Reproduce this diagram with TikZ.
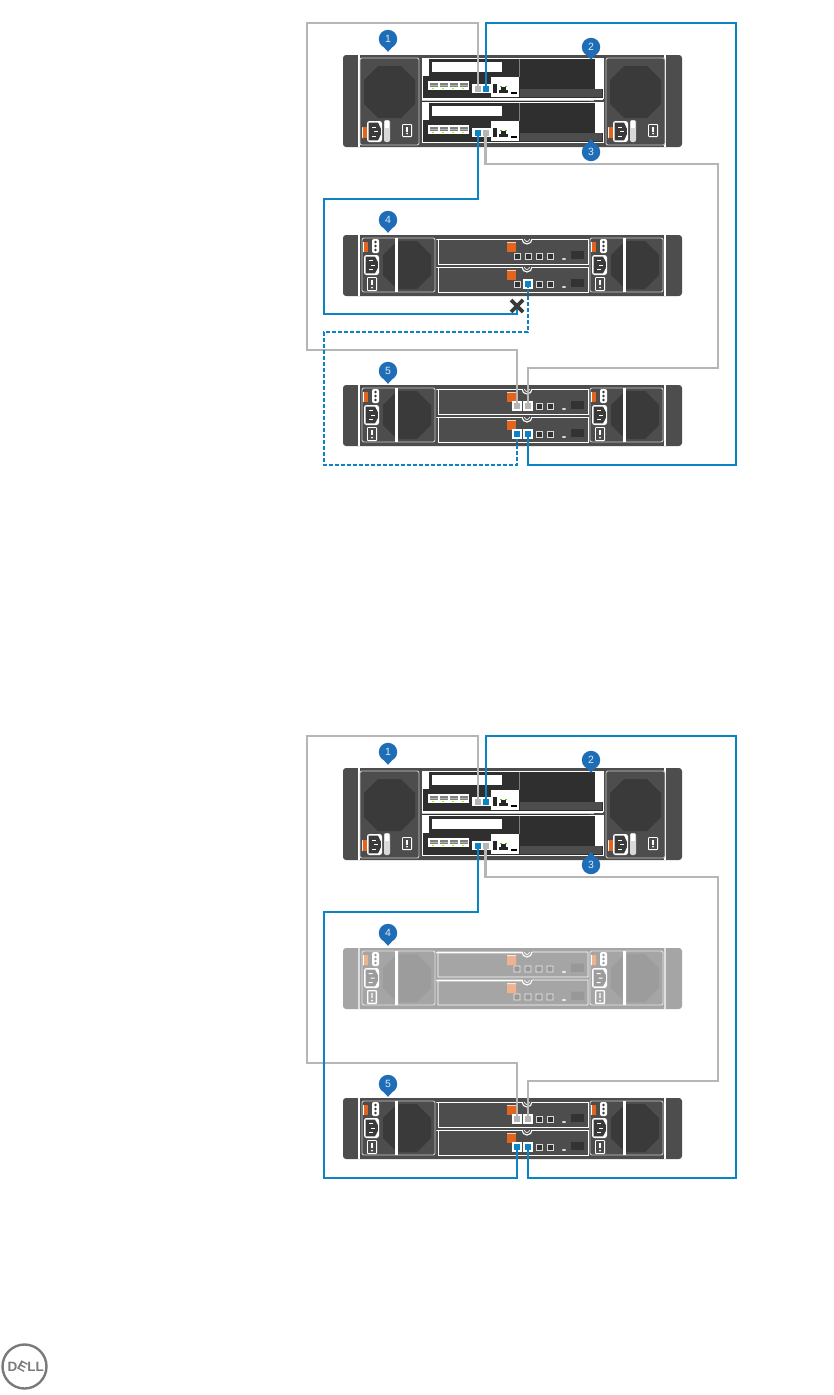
\documentclass[tikz,border=0pt]{standalone}
\usepackage{fontspec}
\usepackage{graphicx}
\setmainfont{Liberation Sans}
\definecolor{body}{HTML}{4D4D4D}
\definecolor{inner}{HTML}{2F2F2F}
\definecolor{octa}{HTML}{3A3A3A}
\definecolor{cblue}{HTML}{0A84C4}
\definecolor{cgray}{HTML}{B6B6B6}
\definecolor{mblue}{HTML}{1F6DB7}
\definecolor{orng}{HTML}{E2651E}
\definecolor{logo}{HTML}{7A7A7A}
\tikzset{
  graycable/.style={draw=cgray,line width=2.7pt},
  bluecable/.style={draw=cblue,line width=2.5pt},
  bluedash/.style={draw=cblue,line width=2.5pt,dash pattern=on 4pt off 2pt},
  wl/.style={draw=white,line width=.9pt},
  softl/.style={draw=white!78!black,line width=.9pt},
  marknum/.style={text=white!85!cblue,font=\fontsize{10.5}{12}\selectfont,inner sep=0pt},
}
\newcommand\octagon[5]{\fill[octa] (#1+#5,#2) -- (#3-#5,#2) -- (#3,#2+#5) -- (#3,#4-#5) -- (#3-#5,#4) -- (#1+#5,#4) -- (#1,#4-#5) -- (#1,#2+#5) -- cycle;}
\newcommand\bodyshell[2]{%
  \fill[body,rounded corners=3pt] (343,#1) rectangle (682,#2);
  \draw[white,line width=1.2pt] (359,#1) -- (359,#2);
  \draw[white,line width=1.2pt] (665,#1) -- (665,#2);
}
\newcommand\switchglyph[4]{%
  \fill[white,rounded corners=1pt] (#1,#2) rectangle (#3,#4);
  \fill[black!70] (#1+1.4,#2+1.4) rectangle (#3-1.4,#4-1.4);
  \fill[white] ({(#1+#3)/2-.6},#2+3) rectangle ({(#1+#3)/2+.6},{(#2+#4)/2+1});
  \fill[white] ({(#1+#3)/2},#4-3.5) circle[radius=1pt];
}
\newcommand\socketglyph[4]{%
  \fill[white,rounded corners=2.5pt] (#1,#2) rectangle (#3,#4);
  \fill[octa] (#1+1.5,#2+1.6) -- (#3-4,#2+1.6) -- (#3-1.2,{(#2+#4)/2-3}) -- (#3-1.2,{(#2+#4)/2+3}) -- (#3-4,#4-1.6) -- (#1+1.5,#4-1.6) -- cycle;
  \fill[white] ({(#1+#3)/2-1},{(#2+#4)/2-.5}) rectangle ({(#1+#3)/2+3},{(#2+#4)/2+.5});
  \fill[white] ({(#1+#3)/2-3},{(#2+#4)/2-5}) rectangle ({(#1+#3)/2+1},{(#2+#4)/2-4});
  \fill[white] ({(#1+#3)/2-3},{(#2+#4)/2+4}) rectangle ({(#1+#3)/2+1},{(#2+#4)/2+5});
}
\newcommand\toppsu[1]{%
  \begin{scope}[shift={(#1,0)}]
    \fill[body] (360,58) rectangle (419,145);
    \draw[softl,rounded corners=2pt] (360,58) rectangle (419,145);
    \octagon{364}{66}{415}{118}{14}
    \fill[white!95!black,rounded corners=1pt] (362,127) rectangle (363,138);
    \fill[orng] (363,127) rectangle (366.5,138);
    \socketglyph{367}{121}{382}{142}
    \fill[white!85!black,rounded corners=2pt] (384,120) rectangle (390,142);
    \fill[white] (385,120.5) rectangle (389,128);
    \switchglyph{402}{124}{412}{137}
  \end{scope}
}
\newcommand\ctrl[1]{%
  \begin{scope}[shift={(0,#1)}]
    \fill[inner] (422,58) rectangle (603,98);
    \fill[white] (422,58) rectangle (429,76);
    \fill[white] (432,62) rectangle (502,72);
    \fill[white] (428,80.5) rectangle (469,90);
    \foreach \px in {430,440,450,460}{\fill[black!50] (\px,82.5) rectangle (\px+7.5,86.5);\fill[black!30] (\px,84.5) rectangle (\px+7.5,85.5);}
    \foreach \px in {432,442,452,462}{\fill[green!45!yellow] (\px,88) rectangle (\px+1.5,89);}
    \fill[white] (472,84) rectangle (491,93);
    \fill[white] (491,77) rectangle (519,97);
    \fill[black!85] (493,84) rectangle (497,93);
    \fill[black!85] (499,90) rectangle (508,93);
    \fill[black!85] (501,87) rectangle (506,90);
    \fill[green!60!yellow!80!black] (500,86) rectangle (502,87);
    \fill[green!60!yellow!80!black] (505,86) rectangle (507,87);
    \fill[black] (511,92) rectangle (517,93.5);
    \draw[black!50,line width=.4pt] (519,58) -- (519,77);
    \fill[white] (595,58) rectangle (603,89);
    \fill[body] (519.5,89) rectangle (602,97);
    \draw[wl] (422,58) rectangle (603,98);
  \end{scope}
}
\newcommand\topunit{%
  \bodyshell{55}{147}
  \toppsu{0}\toppsu{246}
  \ctrl{0}\ctrl{44}
  \fill[white] (422,98) rectangle (603,100);
  \fill[inner] (422,100) rectangle (590,102);
  \draw[softl] (422,100) -- (594,100);
}
\newcommand\encpsu[1]{%
  \begin{scope}[shift={(#1,0)}]
    \draw[softl,rounded corners=2pt] (362,238) rectangle (435,292);
    \octagon{383}{241}{431}{289}{14}
    \fill[white] (395,238) rectangle (398,292);
    \fill[white] (363,242) rectangle (364,252);
    \fill[orng] (364,242) rectangle (368,252);
    \fill[white,rounded corners=2pt] (372,239) rectangle (379,253);
    \foreach \dy in {242,246,250}{\fill[octa] (375.5,\dy) circle[radius=1.3pt];}
    \socketglyph{364}{255}{379}{275}
    \switchglyph{367}{277}{377}{291}
  \end{scope}
}
\newcommand\iom[1]{%
  \begin{scope}[shift={(0,#1)}]
    \draw[wl] (438,239) -- (438,264) -- (588,264) -- (588,239) -- (532,239);
    \draw[white,line width=1.6pt,line cap=round] (437,239.5) -- (522,239.5);
    \draw[white,line width=1.1pt] (522,239) arc[start angle=180,end angle=360,radius=5pt];
    \draw[white,line width=.7pt] (524.5,239) arc[start angle=180,end angle=360,radius=2.5pt];
    \fill[orng] (507,242) rectangle (516,252);
    \fill[white!70!orng] (507,242) rectangle (516,243);
    \foreach \px in {517,528,539,550}{\draw[white!85!black,line width=.8pt,fill=black!80] (\px-3,253) rectangle (\px+3,259);}
    \fill[white!85!black] (564,259) ellipse[x radius=2pt,y radius=1pt];
    \fill[black!80] (571,250.5) rectangle (584,259);
  \end{scope}
}
\newcommand\enclosure{%
  \bodyshell{235}{296}
  \encpsu{0}\encpsu{228}
  \iom{0}\iom{28}
}
\newcommand\pin[5]{%
  \fill[mblue] (#2,#3) circle[radius=9.2pt];
  \fill[mblue] (#2-8.4,#3+3.6*#4) -- (#2,#3+12.8*#4) -- (#2+8.4,#3+3.6*#4) -- cycle;
  \node[marknum] (#1) at (#2,#3) {#5};
}
\newcommand\hiport[3]{%
  \fill[white] (#1-5,#2-5) rectangle (#1+5,#2+5);
  \fill[#3] (#1-3,#2-3) rectangle (#1+3,#2+3);
}
\newcommand\coordsset{%
  \coordinate (t1g) at (478,89);
  \coordinate (t1b) at (486,89);
  \coordinate (t2b) at (478,133);
  \coordinate (t2g) at (485.5,133);
  \coordinate (e5ug) at (517,406);
  \coordinate (e5ur) at (528,406);
  \coordinate (e5lb) at (517,434);
  \coordinate (e5lr) at (528,434);
  \coordinate (wa) at (307,23);
  \coordinate (wb) at (517,350);
  \coordinate (wc) at (736,23);
  \coordinate (wd) at (736,465);
  \coordinate (we) at (718,164);
  \coordinate (wf) at (528,368);
  \coordinate (wg) at (324,199);
}
\newcommand\portsquares{%
  \fill[cgray] (474.5,86) rectangle (481,92);
  \fill[cblue] (483,86) rectangle (489,92);
  \fill[cblue] (475,130) rectangle (481,136);
  \fill[cgray] (482.5,130) rectangle (488.5,136);
  \begin{scope}[shift={(0,150)}]
    \hiport{517}{256}{cgray}
    \hiport{528}{256}{cgray}
    \hiport{517}{284}{cblue}
    \hiport{528}{284}{cblue}
  \end{scope}
}
\newcommand\commoncables{%
  \draw[graycable] (t1g) |- (wa) |- (wb) -- (e5ug);
  \draw[graycable] (t2g) |- (we) |- (wf) -- (e5ur);
  \draw[bluecable] (t1b) |- (wc) -- (wd) -| (e5lr);
}
\newcommand\pins{%
  \pin{m1}{388}{39}{1}{1}
  \pin{m2}{591}{47}{1}{2}
  \pin{m3}{591}{152}{-1}{3}
  \pin{m4}{388}{220}{1}{4}
  \pin{m5}{388}{371}{1}{5}
}
\begin{document}
\begin{tikzpicture}[x=1pt,y=-1pt]
\useasboundingbox (0,0) rectangle (833,1395);
\fill[white] (0,0) rectangle (833,1395);

\begin{scope}[name prefix=A-]
  \topunit
  \enclosure
  \begin{scope}[shift={(0,150)}]\enclosure\end{scope}
  \portsquares
  \hiport{528}{284}{cblue}
  \coordsset
  \coordinate (e4p) at (528,284);
  \coordinate (xm) at (517,306);
  \coordinate (wh) at (324,314);
  \coordinate (wi) at (528,332);
  \coordinate (wj) at (324,465);
  \commoncables
  \draw[bluecable] (t2b) |- (wg) -- (wh) -| (xm);
  \draw[bluedash] (e4p) -- (wi) -| (wj) -| (e5lb);
  \draw[octa,line width=3.6pt] (xm) ++(-6,-6) -- ++(12,12) (xm) ++(6,-6) -- ++(-12,12);
  \pins
\end{scope}

\begin{scope}[name prefix=B-,shift={(0,713)}]
  \topunit
  \begin{scope}[transparency group,opacity=.5]\enclosure\end{scope}
  \begin{scope}[shift={(0,150)}]\enclosure\end{scope}
  \portsquares
  \coordsset
  \coordinate (wh) at (324,465);
  \commoncables
  \draw[bluecable] (t2b) |- (wg) -- (wh) -| (e5lb);
  \pins
\end{scope}

\draw[logo,line width=2.4pt] (24.5,1366.5) circle[radius=22pt];
\node[text=logo,font=\bfseries\fontsize{13.5}{15}\selectfont,inner sep=0pt] (logoD) at (12.5,1367) {D};
\node[text=logo,font=\bfseries\fontsize{13.5}{15}\selectfont,inner sep=0pt,rotate=-28] (logoE) at (22.5,1366.5) {E};
\node[text=logo,font=\bfseries\fontsize{13.5}{15}\selectfont,inner sep=0pt] (logoL) at (35.5,1367) {LL};
\end{tikzpicture}
\end{document}
